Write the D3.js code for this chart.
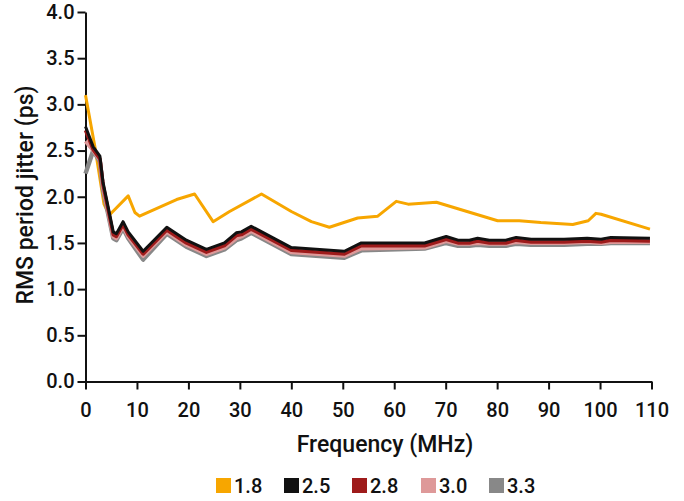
<!DOCTYPE html>
<html><head><meta charset="utf-8">
<script src="https://cdn.jsdelivr.net/npm/d3@7"></script>
<style>
html,body{margin:0;padding:0;background:#fff;}
svg{display:block;font-family:Roboto, "DejaVu Sans", sans-serif;font-weight:500;}
</style></head>
<body>
<svg id="chart" width="684" height="501"></svg>
<script>
const seriesNames = ["1.8", "2.5", "2.8", "3.0", "3.3"];
const seriesColors = ["#F7A600", "#111111", "#9E1B1B", "#DE9999", "#888888"];

const freq18 = [0, 1.8, 3.6, 4.6, 8.3, 9.6, 10.5, 17.7, 21.2, 24.8, 28, 34.2, 40, 43.9, 47.4, 52.9, 56.8, 60.4, 62.7, 68.2, 80.1, 84.3, 88.5, 94.7, 97.7, 99.2, 100.2, 109.7];
const jitter18 = [3.10, 2.55, 1.92, 1.80, 2.01, 1.83, 1.79, 1.97, 2.03, 1.73, 1.84, 2.03, 1.84, 1.73, 1.67, 1.77, 1.79, 1.95, 1.92, 1.94, 1.74, 1.74, 1.72, 1.70, 1.74, 1.82, 1.81, 1.65];

const freqs = [0, 1.5, 2.8, 3.4, 5.4, 6.0, 7.3, 8.3, 11.2, 15.8, 19.6, 23.5, 27, 29.3, 30.3, 32.2, 40, 50.3, 53.6, 65.9, 70.1, 72.4, 74.6, 76.2, 78.5, 81.7, 83.7, 86.6, 93, 97.5, 100.2, 102.1, 109.7];
const jitter25 = [2.76, 2.54, 2.44, 2.16, 1.62, 1.60, 1.73, 1.62, 1.41, 1.67, 1.53, 1.43, 1.50, 1.61, 1.62, 1.68, 1.45, 1.41, 1.50, 1.50, 1.57, 1.53, 1.53, 1.55, 1.53, 1.53, 1.56, 1.54, 1.54, 1.55, 1.54, 1.56, 1.55];
const jitter28 = [2.72, 2.51, 2.41, 2.13, 1.59, 1.57, 1.70, 1.59, 1.38, 1.64, 1.50, 1.40, 1.47, 1.58, 1.59, 1.65, 1.42, 1.38, 1.47, 1.47, 1.54, 1.50, 1.50, 1.52, 1.50, 1.50, 1.53, 1.51, 1.51, 1.52, 1.51, 1.53, 1.52];
const jitter30 = [2.60, 2.50, 2.40, 2.11, 1.57, 1.55, 1.68, 1.57, 1.36, 1.62, 1.48, 1.38, 1.45, 1.55, 1.57, 1.63, 1.40, 1.36, 1.44, 1.45, 1.52, 1.49, 1.49, 1.50, 1.49, 1.49, 1.51, 1.50, 1.50, 1.51, 1.50, 1.51, 1.51];
const jitter33 = [2.25, 2.50, 2.38, 2.08, 1.55, 1.53, 1.66, 1.55, 1.32, 1.60, 1.46, 1.36, 1.43, 1.53, 1.55, 1.61, 1.38, 1.34, 1.42, 1.44, 1.50, 1.47, 1.47, 1.48, 1.47, 1.47, 1.49, 1.48, 1.48, 1.49, 1.49, 1.50, 1.50];

const xTicks = [0, 10, 20, 30, 40, 50, 60, 70, 80, 90, 100, 110];
const yTicks = [0, 0.5, 1.0, 1.5, 2.0, 2.5, 3.0, 3.5, 4.0];

const svg = d3.select("#chart");
const x = d3.scaleLinear().domain([0, 110]).range([85.5, 651.5]);
const y = d3.scaleLinear().domain([0, 4]).range([381.5, 12]);

// axes
const xAxis = svg.append("g").attr("transform", `translate(0,${y(0)})`)
  .call(d3.axisBottom(x).tickValues(xTicks).tickFormat(d3.format("d")).tickSize(8).tickPadding(13).tickSizeOuter(0));
const yAxis = svg.append("g").attr("transform", `translate(${x(0)},0)`)
  .call(d3.axisLeft(y).tickValues(yTicks).tickFormat(d3.format(".1f")).tickSize(8).tickPadding(3).tickSizeOuter(0));
[xAxis, yAxis].forEach(g => {
  g.selectAll("path.domain").attr("stroke", "#111").attr("stroke-width", 2);
  g.selectAll(".tick line").attr("stroke", "#111").attr("stroke-width", 2);
  g.selectAll(".tick text").attr("fill", "#111").style("font-size", "20px").style("font-family", "Roboto, sans-serif").style("font-weight", "500");
});

// lines
const line = d3.line().x(d => x(d[0])).y(d => y(d[1]));
const data = [
  {i: 0, xs: freq18, ys: jitter18, w: 3},
  {i: 4, xs: freqs, ys: jitter33, w: 4.5},
  {i: 3, xs: freqs, ys: jitter30, w: 4},
  {i: 2, xs: freqs, ys: jitter28, w: 3.5},
  {i: 1, xs: freqs, ys: jitter25, w: 3}
];
data.forEach(s => {
  svg.append("path")
    .datum(s.xs.map((f, k) => [f, s.ys[k]]))
    .attr("d", line)
    .attr("fill", "none")
    .attr("stroke", seriesColors[s.i])
    .attr("stroke-width", s.w)
    .attr("stroke-linejoin", "round");
});

// axis titles
svg.append("text").attr("x", 385).attr("y", 452).attr("text-anchor", "middle")
  .style("font-size", "23px").attr("fill", "#111").text("Frequency (MHz)");
svg.append("text").attr("transform", "translate(33,195) rotate(-90)").attr("text-anchor", "middle")
  .style("font-size", "23px").attr("fill", "#111").text("RMS period jitter (ps)");

// legend
const legendX = [216, 284, 352, 421, 489];
seriesNames.forEach((n, i) => {
  const g = svg.append("g").attr("transform", `translate(${legendX[i]},478)`);
  g.append("rect").attr("width", 15).attr("height", 15).attr("fill", seriesColors[i]);
  g.append("text").attr("x", 18).attr("y", 14.5).style("font-size", "20px").attr("fill", "#111").text(n);
});
</script>
</body></html>
